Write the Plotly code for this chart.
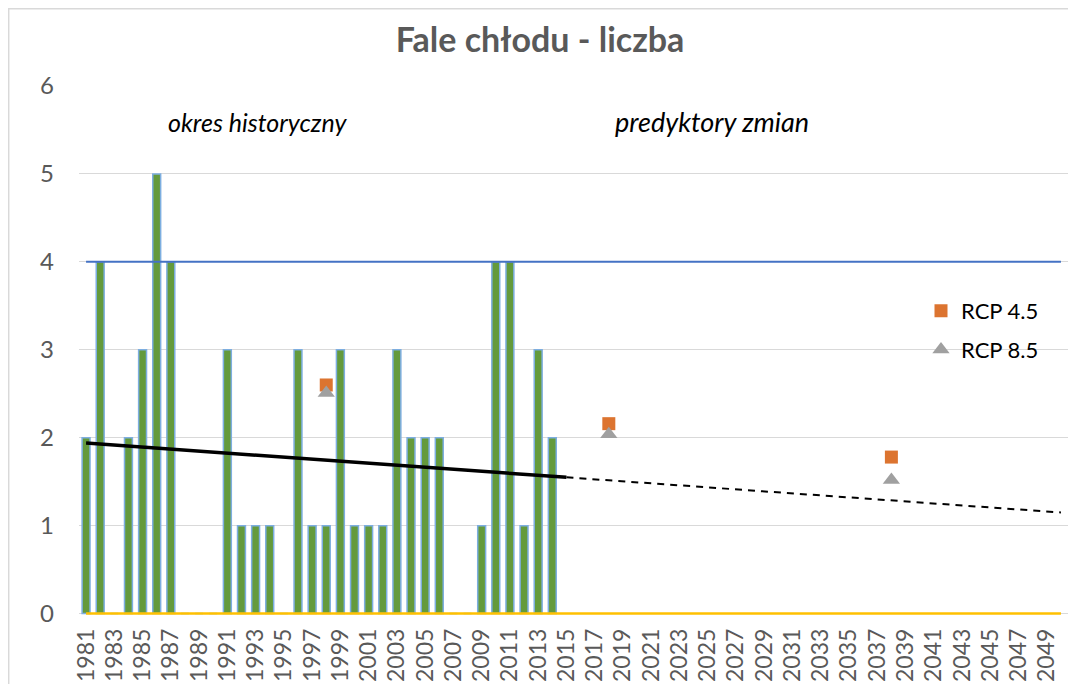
import plotly.graph_objects as go

# ---- data ----
years = list(range(1981, 2051))
hist_years = list(range(1981, 2015))
cold_waves = [2, 4, 0, 2, 3, 5, 4, 0, 0, 0,
              3, 1, 1, 1, 0, 3, 1, 1, 3, 1,
              1, 1, 3, 2, 2, 2, 0, 0, 1, 4,
              4, 1, 3, 2]
ref_line_years = [1981, 2050]
upper_line = [4, 4]
lower_line = [0, 0]
trend_years = [1981, 2015]
trend_vals = [1.94, 1.55]
forecast_years = [2015, 2050]
forecast_vals = [1.55, 1.15]
rcp_years = [1998, 2018, 2038]
rcp45 = [2.60, 2.16, 1.78]
rcp85 = [2.51, 2.04, 1.52]
tick_years = list(range(1981, 2050, 2))
y_ticks = [0, 1, 2, 3, 4, 5, 6]

FONT = "Lato"
GREY = "#595959"

fig = go.Figure()
fig.add_trace(go.Bar(x=hist_years, y=cold_waves, width=0.56,
                     marker=dict(color="#649A3C", line=dict(color="#7DAEE0", width=1.5)),
                     showlegend=False))
fig.add_trace(go.Scatter(x=ref_line_years, y=upper_line, mode="lines",
                         line=dict(color="#4472C4", width=2), showlegend=False))
fig.add_trace(go.Scatter(x=ref_line_years, y=lower_line, mode="lines",
                         line=dict(color="#FFC000", width=2.5), showlegend=False))
fig.add_trace(go.Scatter(x=trend_years, y=trend_vals, mode="lines",
                         line=dict(color="black", width=3.5), showlegend=False))
fig.add_trace(go.Scatter(x=forecast_years, y=forecast_vals, mode="lines",
                         line=dict(color="black", width=2, dash="7px,6px"), showlegend=False))
fig.add_trace(go.Scatter(x=rcp_years, y=rcp45, mode="markers", name="RCP 4.5",
                         marker=dict(symbol="square", size=13, color="#DC7430"),
                         legend="legend"))
fig.add_trace(go.Scatter(x=rcp_years, y=rcp85, mode="markers", name="RCP 8.5",
                         marker=dict(symbol="triangle-up", size=15, color="#A0A0A0"),
                         legend="legend2"))

# page body has an 8px margin, so the figure is laid out 8px up/left of the target
OFF = 8
W, H = 1060, 676
Y_LO, Y_HI = -0.05, 6
UNIT = (614 - 86) / 6           # pixels per unit on the y axis
bottom_px = 614 - Y_LO * UNIT   # plot bottom (slightly below the 0 line)
L, T = 79 - OFF, 86 - OFF
R = W - (1068 - OFF)
B = H - (bottom_px - OFF)
pw, ph = W - L - R, H - T - B

def px(x):
    return (x - OFF - L) / pw

def py(y):
    return (H - B - (y - OFF)) / ph

fig.update_layout(
    template="none",
    width=W, height=H,
    margin=dict(l=L, r=R, t=T, b=B, autoexpand=False),
    paper_bgcolor="white", plot_bgcolor="white",
    font=dict(family=FONT, color=GREY),
    title=dict(text="<b>Fale chłodu - liczba</b>", x=(540 - OFF) / W, xanchor="center",
               y=1 - (40 - OFF) / H, yanchor="middle",
               font=dict(size=34, color=GREY, family=FONT)),
    xaxis=dict(range=[1980.5, 2050.5], tickmode="array", tickvals=tick_years,
               ticktext=[str(y) for y in tick_years], tickangle=-90,
               tickfont=dict(size=23, color=GREY), showgrid=False, zeroline=False,
               showline=False, ticks="", ticklabelstandoff=5, automargin=False),
    yaxis=dict(range=[Y_LO, Y_HI], tickvals=y_ticks, tickfont=dict(size=24, color=GREY),
               showgrid=True, gridcolor="#D9D9D9", gridwidth=1, zeroline=False,
               showline=False, ticks="", ticklabelstandoff=24, automargin=False),
    bargap=0.4,
    legend=dict(x=px(921), y=py(311), xanchor="left", yanchor="middle",
                font=dict(size=22, color="black", family=FONT), bgcolor="rgba(0,0,0,0)"),
    legend2=dict(x=px(921), y=py(350), xanchor="left", yanchor="middle",
                 font=dict(size=22, color="black", family=FONT), bgcolor="rgba(0,0,0,0)"),
    annotations=[
        dict(text="<i>okres historyczny</i>", xref="paper", yref="paper",
             x=px(257), y=py(122), showarrow=False, xanchor="center", yanchor="middle",
             font=dict(size=25, color="black", family=FONT)),
        dict(text="<i>predyktory zmian</i>", xref="paper", yref="paper",
             x=px(712), y=py(122), showarrow=False, xanchor="center", yanchor="middle",
             font=dict(size=27, color="black", family=FONT)),
    ],
    shapes=[dict(type="rect", xref="paper", yref="paper",
                 x0=px(8.7), y0=py(720), x1=px(1100), y1=py(8.7),
                 line=dict(color="#D9D9D9", width=1.5), layer="below")],
)

fig.write_html("out.html")
